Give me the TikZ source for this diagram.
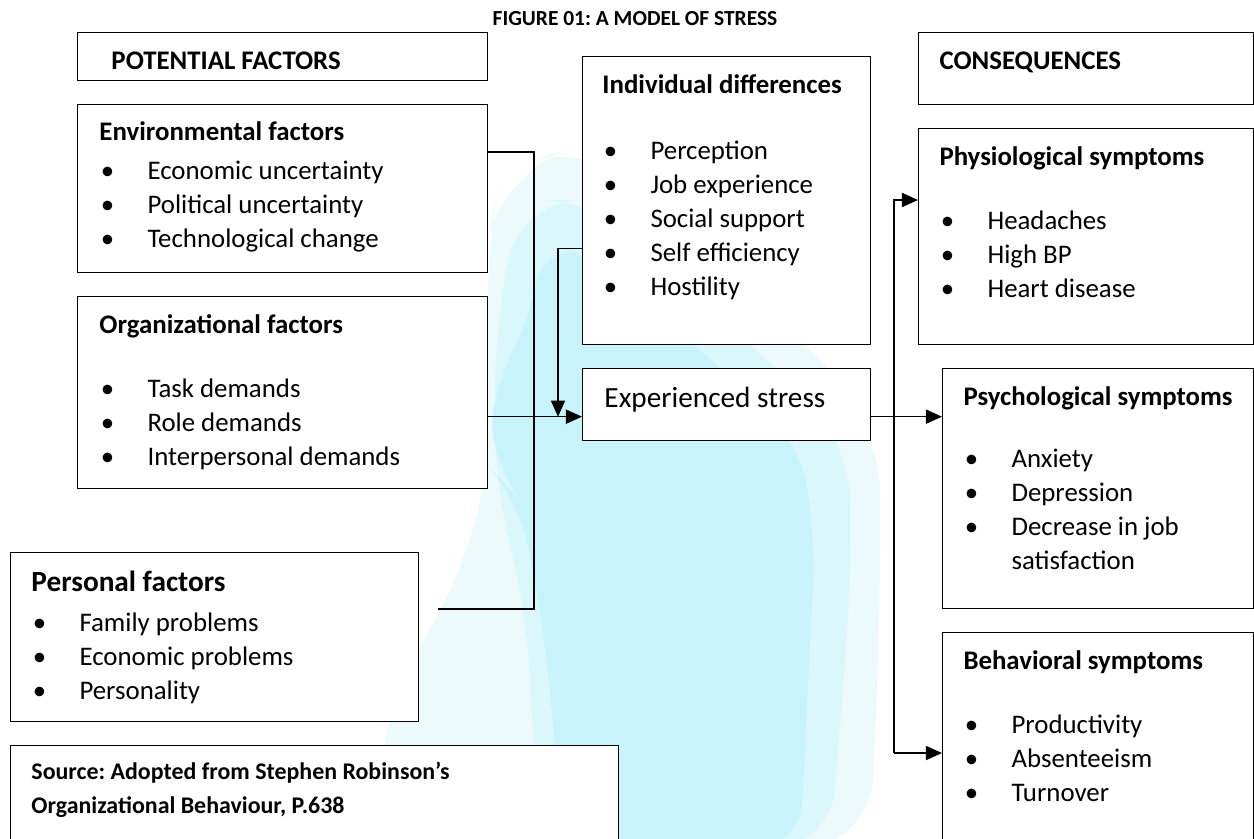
\documentclass[tikz,border=0pt]{standalone}
\usepackage{fontspec}
\setmainfont{Carlito}
\usetikzlibrary{arrows.meta, positioning}

\newcommand{\px}{0.41pt}
\newcommand{\bl}{\makebox[19.7pt][l]{\hspace{0.6pt}\textbullet}}
\newcommand{\skipbl}{\hspace*{19.7pt}}

\definecolor{markcore}{RGB}{201,243,250}
\definecolor{markmid}{RGB}{218,247,251}
\definecolor{markedge}{RGB}{236,250,252}

\begin{document}
\frenchspacing
\begin{tikzpicture}[
    x=0.41pt, y=-0.41pt,
    frame/.style 2 args={draw, fill=white, line width=0.55pt, inner sep=0pt, anchor=north west,
      minimum width=#1*\px, minimum height=#2*\px},
    txt/.style={anchor=base west, inner sep=0pt, align=left, font=\fontsize{11}{13.94}\selectfont},
    head/.style={txt, font=\fontsize{11}{13.94}\selectfont\bfseries},
    link/.style={line width=0.55pt},
    arr/.style={link, -{Triangle[length=6.6pt, width=5.8pt]}},
  ]
  \useasboundingbox (0,0) rectangle (1254,838);
  \clip (0,0) rectangle (1254,838);

  % faint watermark behind the boxes
  \fill[markedge, rounded corners=30] (500,170) -- (600,140) -- (880,420) -- (880,620) -- (870,850)
    -- (380,850) -- (380,715) -- (470,560) -- (487,470) -- (487,250) -- cycle;
  \fill[markmid, rounded corners=25] (520,200) -- (600,200) -- (850,440) -- (850,600) -- (830,850)
    -- (540,850) -- (525,600) -- (495,490) -- (495,330) -- cycle;
  \fill[markcore, rounded corners=20] (540,240) -- (600,260) -- (800,440) -- (815,540) -- (800,850)
    -- (565,850) -- (545,640) -- (520,500) -- (492,470) -- (492,380) -- (534,320) -- cycle;

  \node[head, anchor=base, font=\fontsize{8.8}{10}\selectfont\bfseries] (title) at (635,25) {FIGURE 01: A MODEL OF STRESS};

  % potential factors
  \node[frame={410}{48}] (potential) at (77,32) {};
  \node[head] (potential-txt) at (111,69) {POTENTIAL FACTORS};

  \node[frame={410}{168}] (env) at (77,104) {};
  \node[head] (env-head) at (99,140) {Environmental factors};
  \node[txt] (env-list) at (99,247) {\bl Economic uncertainty\\ \bl Political uncertainty\\ \bl Technological change};

  \node[frame={410}{192}] (org) at (77,296) {};
  \node[head] (org-head) at (99,333) {Organizational factors};
  \node[txt] (org-list) at (99,465) {\bl Task demands\\ \bl Role demands\\ \bl Interpersonal demands};

  \node[frame={408}{169}] (pers) at (10,552) {};
  \node[head, font=\fontsize{12}{14}\selectfont\bfseries] (pers-head) at (31,591) {Personal factors};
  \node[txt] (pers-list) at (31,699) {\bl Family problems\\ \bl Economic problems\\ \bl Personality};

  \node[frame={608}{110}] (source) at (10,745) {};
  \node[txt, font=\fontsize{9.8}{13.6}\selectfont\bfseries] (source-txt) at (31,813) {Source: Adopted from Stephen Robinson’s\\ Organizational Behaviour, P.638};

  % moderators and stress
  \node[frame={288}{288}] (indiv) at (582,56) {};
  \node[head] (indiv-head) at (602,93) {Individual differences};
  \node[txt] (indiv-list) at (602,295) {\bl Perception\\ \bl Job experience\\ \bl Social support\\ \bl Self efficiency\\ \bl Hostility};

  \node[frame={288}{72}] (stress) at (582,368) {};
  \node[txt, font=\fontsize{12}{14}\selectfont] (stress-txt) at (604,407) {Experienced stress};

  % consequences
  \node[frame={335}{72}] (conseq) at (918,32) {};
  \node[head] (conseq-txt) at (939,69) {CONSEQUENCES};

  \node[frame={335}{216}] (physio) at (918,128) {};
  \node[head] (physio-head) at (939,165) {Physiological symptoms};
  \node[txt] (physio-list) at (939,297) {\bl Headaches\\ \bl High BP\\ \bl Heart disease};

  \node[frame={311}{240}] (psych) at (942,368) {};
  \node[head] (psych-head) at (963,405) {Psychological symptoms};
  \node[txt] (psych-list) at (963,569) {\bl Anxiety\\ \bl Depression\\ \bl Decrease in job\\ \skipbl satisfaction};

  \node[frame={311}{230}] (behav) at (942,632) {};
  \node[head] (behav-head) at (963,669) {Behavioral symptoms};
  \node[txt] (behav-list) at (963,801) {\bl Productivity\\ \bl Absenteeism\\ \bl Turnover};

  % connectors
  \coordinate (bus-l) at (534,152);
  \coordinate (pers-end) at (438,609);
  \draw[link] (env.east |- bus-l) -- (bus-l) -- (bus-l |- pers-end) -- (pers-end);

  \coordinate (stress-in) at ([yshift=-12*\px]stress.west);
  \draw[arr] (org.east |- stress-in) -- (stress-in);

  \coordinate (indiv-out) at ([yshift=-48*\px]indiv.west);
  \draw[arr] (indiv-out) -- ++(-24,0) coordinate (drop) -- (drop |- stress-in);

  \draw[arr] (stress.east |- stress-in) -- (psych.west |- stress-in);

  \coordinate (physio-in) at ([yshift=-72*\px]physio.north west);
  \coordinate (behav-in) at ([yshift=-121*\px]behav.north west);
  \draw[arr] ([xshift=-48*\px]behav-in) |- (physio-in);
  \draw[arr] ([xshift=-48*\px]behav-in) -- (behav-in);
\end{tikzpicture}
\end{document}
